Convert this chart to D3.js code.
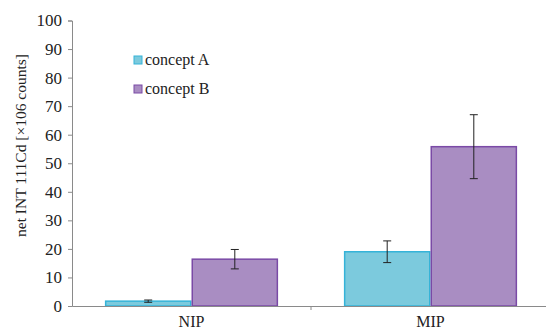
<!DOCTYPE html>
<html>
<head>
<meta charset="utf-8">
<script src="https://cdn.jsdelivr.net/npm/d3@7"></script>
<style>
  body { margin: 0; background: #fff; }
  svg { display: block; }
  svg text { font-family: 'Liberation Serif', 'Times New Roman', serif !important; fill: #222; }
</style>
</head>
<body>
<div id="chart"></div>
<script>
var categories = ["NIP", "MIP"];
var seriesNames = ["concept A", "concept B"];
var conceptA = [1.7, 19.0];
var conceptB = [16.4, 55.8];
var errA = [0.4, 3.8];
var errB = [3.4, 11.2];
var yTicks = [0, 10, 20, 30, 40, 50, 60, 70, 80, 90, 100];

var width = 546, height = 331;
var margin = { left: 72, right: -4, top: 20.5, bottom: 25 };

var svg = d3.select("#chart").append("svg")
  .attr("width", width)
  .attr("height", height);

var fills = ["#7ccadd", "#a98dc2"];
var strokes = ["#35b3d8", "#7a4aa6"];

var x0 = d3.scaleBand()
  .domain(categories)
  .range([margin.left, width - margin.right])
  .paddingInner(0)
  .paddingOuter(0);

var x1 = d3.scaleBand()
  .domain(seriesNames)
  .range([0, x0.bandwidth()])
  .paddingOuter(0.38)
  .paddingInner(0);

var y = d3.scaleLinear()
  .domain([0, 100])
  .range([height - margin.bottom, margin.top]);

// y axis
var yAxis = svg.append("g")
  .attr("transform", "translate(" + margin.left + ",0)")
  .call(d3.axisLeft(y).tickValues(yTicks).tickSize(4).tickPadding(6));
yAxis.attr("font-family", null);
yAxis.select(".domain").attr("stroke", "#8a8a8a");
yAxis.selectAll(".tick line").attr("stroke", "#8a8a8a");
yAxis.selectAll("text").style("font-size", "17px").attr("fill", "#222");

// bars
var data = categories.map(function (c, i) {
  return [
    { cat: c, s: 0, v: conceptA[i], e: errA[i] },
    { cat: c, s: 1, v: conceptB[i], e: errB[i] }
  ];
});

var groups = svg.selectAll("g.cat")
  .data(data)
  .enter().append("g")
  .attr("class", "cat")
  .attr("transform", function (d) { return "translate(" + x0(d[0].cat) + ",0)"; });

groups.selectAll("rect")
  .data(function (d) { return d; })
  .enter().append("rect")
  .attr("x", function (d) { return x1(seriesNames[d.s]) + 0.75; })
  .attr("y", function (d) { return y(d.v); })
  .attr("width", x1.bandwidth() - 1.5)
  .attr("height", function (d) { return y(0) - y(d.v); })
  .attr("fill", function (d) { return fills[d.s]; })
  .attr("stroke", function (d) { return strokes[d.s]; })
  .attr("stroke-width", 1.5);

// error bars
var eb = groups.selectAll("g.err")
  .data(function (d) { return d; })
  .enter().append("g")
  .attr("class", "err")
  .attr("stroke", "#222")
  .attr("stroke-width", 1);
eb.append("line")
  .attr("x1", function (d) { return x1(seriesNames[d.s]) + x1.bandwidth() / 2; })
  .attr("x2", function (d) { return x1(seriesNames[d.s]) + x1.bandwidth() / 2; })
  .attr("y1", function (d) { return y(d.v + d.e); })
  .attr("y2", function (d) { return y(d.v - d.e); });
eb.selectAll("line.cap")
  .data(function (d) { return [d.v + d.e, d.v - d.e].map(function (t) { return { d: d, t: t }; }); })
  .enter().append("line")
  .attr("class", "cap")
  .attr("x1", function (c) { return x1(seriesNames[c.d.s]) + x1.bandwidth() / 2 - 4; })
  .attr("x2", function (c) { return x1(seriesNames[c.d.s]) + x1.bandwidth() / 2 + 4; })
  .attr("y1", function (c) { return y(c.t); })
  .attr("y2", function (c) { return y(c.t); });

// x axis
var xAxis = svg.append("g")
  .attr("transform", "translate(0," + y(0) + ")")
  .call(d3.axisBottom(x0).tickSize(0).tickPadding(10));
xAxis.attr("font-family", null);
xAxis.select(".domain").attr("stroke", "#8a8a8a");
xAxis.selectAll("text").style("font-size", "16px").attr("fill", "#222");
xAxis.append("line")
  .attr("x1", x0.range()[0] + x0.bandwidth())
  .attr("x2", x0.range()[0] + x0.bandwidth())
  .attr("y1", 0).attr("y2", 4)
  .attr("stroke", "#8a8a8a");

// y label
svg.append("text")
  .attr("transform", "translate(26," + (margin.top + 125) + ") rotate(-90)")
  .attr("text-anchor", "middle")
  .style("font-size", "15.5px")
  .text("net INT 111Cd [×106 counts]");

// legend
var legend = svg.selectAll("g.legend")
  .data(seriesNames)
  .enter().append("g")
  .attr("class", "legend")
  .attr("transform", function (d, i) { return "translate(134," + (56 + i * 29) + ")"; });
legend.append("rect")
  .attr("width", 8).attr("height", 8)
  .attr("fill", function (d, i) { return fills[i]; })
  .attr("stroke", function (d, i) { return strokes[i]; })
  .attr("stroke-width", 1);
legend.append("text")
  .attr("x", 11).attr("y", 9)
  .style("font-size", "16px")
  .text(function (d) { return d; });
</script>
</body>
</html>
